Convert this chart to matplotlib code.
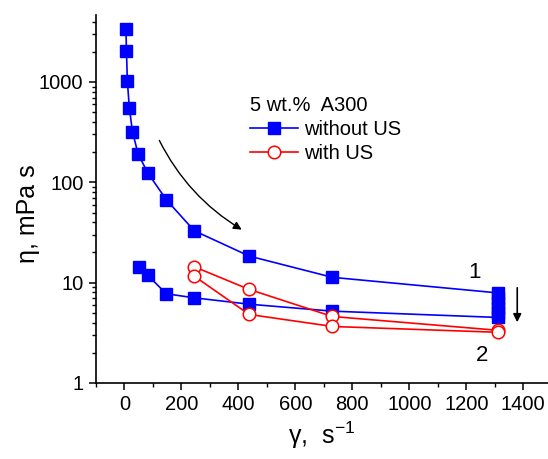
import matplotlib
matplotlib.use('Agg')
import matplotlib.pyplot as plt
from matplotlib.ticker import LogLocator, MultipleLocator, NullFormatter

plt.rcParams['font.family'] = ['Liberation Sans', 'DejaVu Sans']
plt.rcParams['mathtext.fontset'] = 'custom'
plt.rcParams['mathtext.rm'] = 'Liberation Sans'

# without US: shear-rate ramp up, hold at max rate, ramp down
rate_up = [5, 7, 10, 17, 28, 48, 82, 147, 245, 438, 730, 1312]
eta_up = [3350, 2040, 1030, 555, 320, 191, 124, 67, 32.9, 18.4, 11.3, 7.9]
rate_hold = [1312, 1312, 1312, 1312, 1312]
eta_hold = [7.0, 6.3, 5.6, 5.0, 4.5]
rate_down = [730, 438, 245, 147, 82, 50]
eta_down = [5.2, 6.1, 7.06, 7.75, 11.8, 14.4]

# with US
rate_us = [245, 438, 730, 1312, 1312, 730, 438, 245]
eta_us = [14.4, 8.56, 4.6, 3.35, 3.2, 3.66, 4.82, 11.6]

rate_blue = rate_up + rate_hold + rate_down
eta_blue = eta_up + eta_hold + eta_down

fig = plt.figure(figsize=(5.48, 4.59), dpi=100)
ax = fig.add_axes([96 / 548, 1 - 383 / 459, 1 - 96 / 548, (383 - 15) / 459])

ax.plot(rate_blue, eta_blue, '-s', color='#0000ff', lw=1.2, ms=8,
        mec='#0000ff', mfc='#0000ff', label='without US')
ax.plot(rate_us, eta_us, '-o', color='#ff0000', lw=1.2, ms=9,
        mec='#ff0000', mfc='white', mew=1.1, label='with US')

ax.set_yscale('log')
ax.set_xlim(-100, 1487)
ax.set_ylim(1, 4650)
ax.xaxis.set_major_locator(MultipleLocator(200))
ax.xaxis.set_minor_locator(MultipleLocator(100))
ax.yaxis.set_minor_locator(LogLocator(base=10, subs=range(2, 10)))
ax.yaxis.set_minor_formatter(NullFormatter())
ax.set_yticks([1, 10, 100, 1000])
ax.set_yticklabels(['1', '10', '100', '1000'])

for s in ['top', 'right']:
    ax.spines[s].set_visible(False)
for s in ['left', 'bottom']:
    ax.spines[s].set_linewidth(1.2)
ax.tick_params(which='major', direction='out', length=5, width=1.1,
               labelsize=14.5, pad=4)
ax.tick_params(which='minor', direction='out', length=3, width=1.0)

ax.set_xlabel(r'γ,  s$^{\mathregular{-1}}$', fontsize=18, labelpad=4)
ax.set_ylabel('η, mPa s', fontsize=18)
ax.yaxis.set_label_coords(-0.125, 0.46)

leg = ax.legend(title='5 wt.%  A300', loc='upper left',
                bbox_to_anchor=(0.341, 0.78), frameon=False, fontsize=14.5,
                title_fontsize=14.5, borderpad=0, borderaxespad=0,
                handlelength=2.4, handletextpad=0.3, labelspacing=0.25,
                alignment='left')

ax.annotate('', xy=(420, 32.7), xytext=(118, 277),
            arrowprops=dict(arrowstyle='-|>', connectionstyle='arc3,rad=0.15',
                            color='black', lw=1.0, mutation_scale=12))
ax.annotate('', xy=(1379, 3.78), xytext=(1379, 9.47),
            arrowprops=dict(arrowstyle='-|>', color='black', lw=1.2,
                            mutation_scale=12))
ax.text(1228, 12.5, '1', fontsize=16, ha='center', va='center')
ax.text(1254, 1.9, '2', fontsize=16, ha='center', va='center')

fig.savefig('out.png', dpi=100)
